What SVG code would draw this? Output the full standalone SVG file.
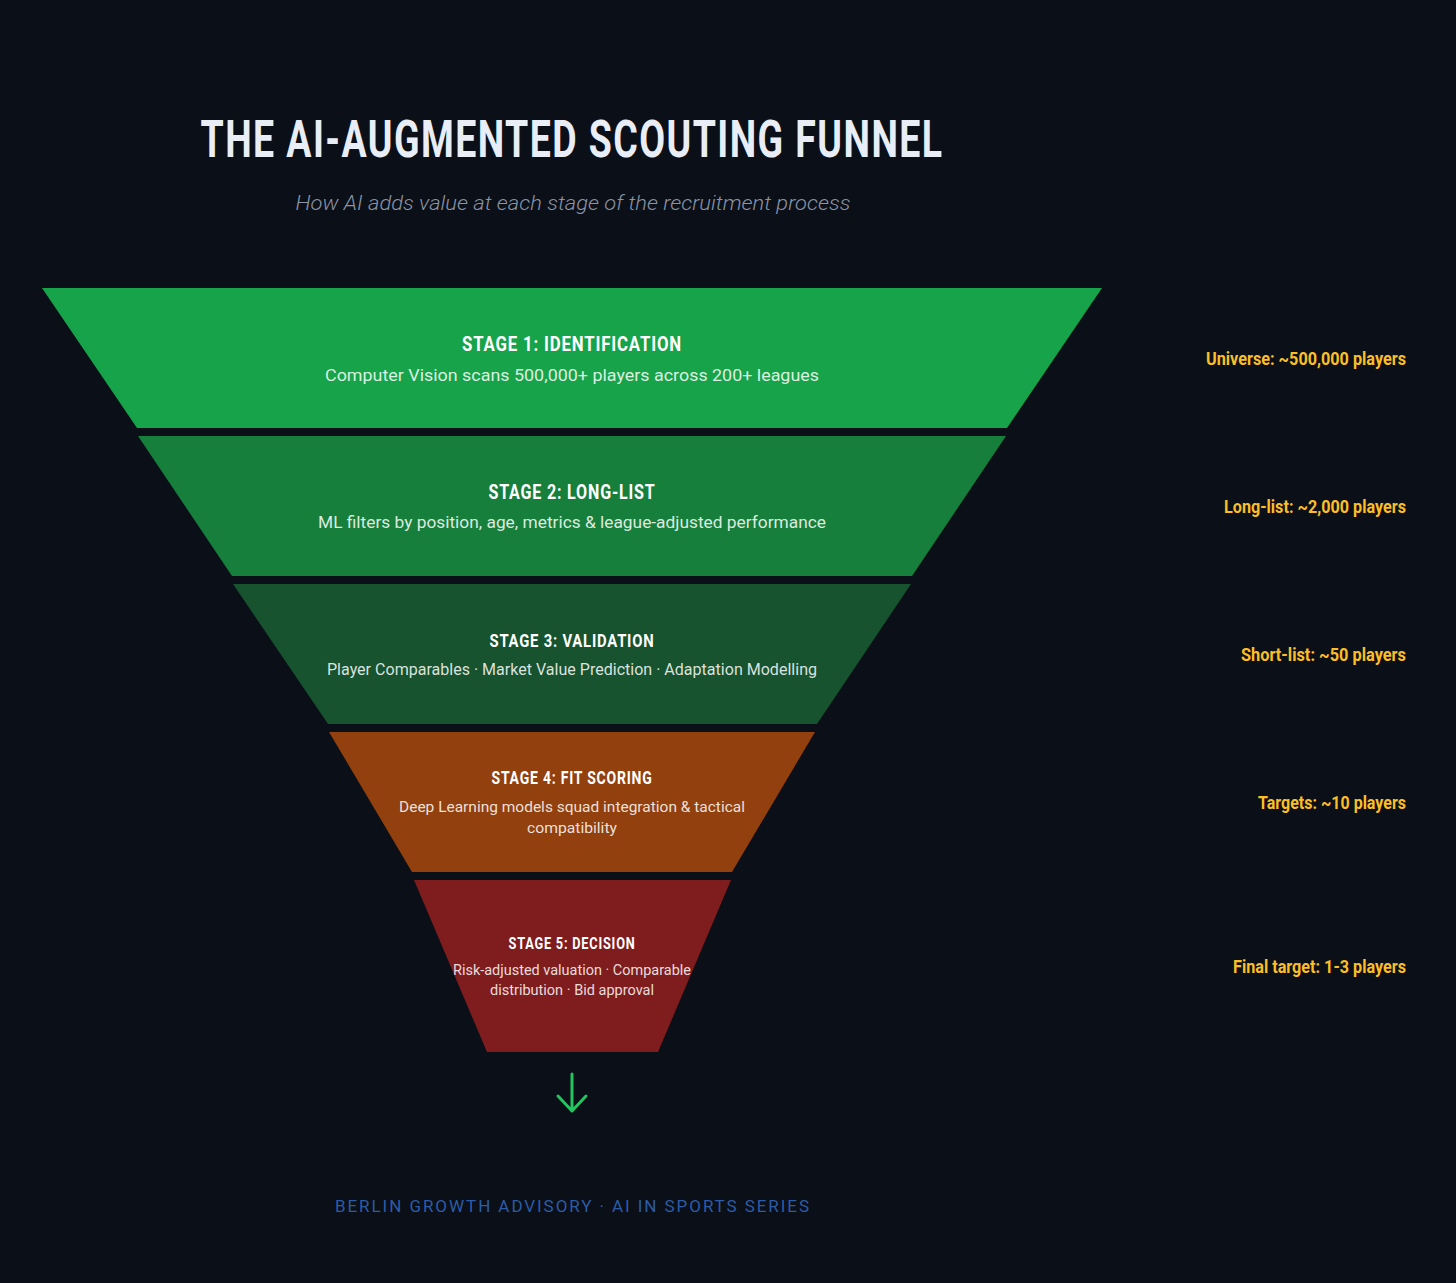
<svg xmlns="http://www.w3.org/2000/svg" width="1456" height="1283" viewBox="0 0 1456 1283">
<style>
.head{font-family:"Roboto","Liberation Sans",sans-serif;font-weight:700;fill:#ffffff;text-anchor:middle;letter-spacing:1px}
.desc{font-family:"Roboto","Liberation Sans",sans-serif;font-weight:400;fill:#ffffff;fill-opacity:0.85;text-anchor:middle}
.lbl{font-family:"Roboto","Liberation Sans",sans-serif;font-weight:700;fill:#fbbf24;text-anchor:end;font-size:18px}
</style>
<rect width="1456" height="1283" fill="#0b0f17"/>
<g id="title">
<text x="572" y="157" font-family="Roboto, 'Liberation Sans', sans-serif" font-weight="700" font-size="52" letter-spacing="2" fill="#e8edf6" text-anchor="middle" textLength="743" lengthAdjust="spacingAndGlyphs">THE AI-AUGMENTED SCOUTING FUNNEL</text>
<text x="573" y="210" font-family="Roboto, 'Liberation Sans', sans-serif" font-style="italic" font-weight="300" font-size="20" fill="#8a94a6" text-anchor="middle" textLength="555" lengthAdjust="spacingAndGlyphs">How AI adds value at each stage of the recruitment process</text>
</g>
<g id="stage1">
<polygon points="42,288 1102,288 1007,428 137,428" fill="#17a34a"/>
<text class="head" x="572" y="351" font-size="20" textLength="220" lengthAdjust="spacingAndGlyphs">STAGE 1: IDENTIFICATION</text>
<text class="desc" x="572" y="381" font-size="17" textLength="494" lengthAdjust="spacingAndGlyphs">Computer Vision scans 500,000+ players across 200+ leagues</text>
</g>
<g id="stage2">
<polygon points="138,436 1006,436 912,576 232,576" fill="#177f3c"/>
<text class="head" x="572" y="499" font-size="20" textLength="167" lengthAdjust="spacingAndGlyphs">STAGE 2: LONG-LIST</text>
<text class="desc" x="572" y="528" font-size="17" textLength="508" lengthAdjust="spacingAndGlyphs">ML filters by position, age, metrics &amp; league-adjusted performance</text>
</g>
<g id="stage3">
<polygon points="233,584 911,584 817,724 328,724" fill="#16532e"/>
<text class="head" x="572" y="647" font-size="19" textLength="165" lengthAdjust="spacingAndGlyphs">STAGE 3: VALIDATION</text>
<text class="desc" x="572" y="675" font-size="16" textLength="490" lengthAdjust="spacingAndGlyphs">Player Comparables · Market Value Prediction · Adaptation Modelling</text>
</g>
<g id="stage4">
<polygon points="329,732 815,732 732,872 412,872" fill="#92400e"/>
<text class="head" x="572" y="784" font-size="18" textLength="161" lengthAdjust="spacingAndGlyphs">STAGE 4: FIT SCORING</text>
<text class="desc" x="572" y="812" font-size="15" textLength="346" lengthAdjust="spacingAndGlyphs">Deep Learning models squad integration &amp; tactical</text>
<text class="desc" x="572" y="833" font-size="15" textLength="90" lengthAdjust="spacingAndGlyphs">compatibility</text>
</g>
<g id="stage5">
<polygon points="414,880 731,880 658,1052 487,1052" fill="#7f1d1e"/>
<text class="head" x="572" y="949" font-size="16" textLength="127" lengthAdjust="spacingAndGlyphs">STAGE 5: DECISION</text>
<text class="desc" x="572" y="975" font-size="14" textLength="238" lengthAdjust="spacingAndGlyphs">Risk-adjusted valuation · Comparable</text>
<text class="desc" x="572" y="995" font-size="14" textLength="164" lengthAdjust="spacingAndGlyphs">distribution · Bid approval</text>
</g>
<g id="labels">
<text class="lbl" x="1406" y="365" textLength="200" lengthAdjust="spacingAndGlyphs">Universe: ~500,000 players</text>
<text class="lbl" x="1406" y="513" textLength="182" lengthAdjust="spacingAndGlyphs">Long-list: ~2,000 players</text>
<text class="lbl" x="1406" y="661" textLength="165" lengthAdjust="spacingAndGlyphs">Short-list: ~50 players</text>
<text class="lbl" x="1406" y="809" textLength="148" lengthAdjust="spacingAndGlyphs">Targets: ~10 players</text>
<text class="lbl" x="1406" y="973" textLength="173" lengthAdjust="spacingAndGlyphs">Final target: 1-3 players</text>
</g>
<g id="connectors">
<path d="M572,1074 L572,1111 M558,1096 L572,1111 L586,1096" fill="none" stroke="#22c55e" stroke-width="3" stroke-linecap="round" stroke-linejoin="round"/>
</g>
<g id="footer">
<text x="572" y="1212" font-family="Roboto, 'Liberation Sans', sans-serif" font-size="17" fill="#2c5ca8" text-anchor="middle" textLength="474" lengthAdjust="spacing">BERLIN GROWTH ADVISORY · AI IN SPORTS SERIES</text>
</g>
</svg>
